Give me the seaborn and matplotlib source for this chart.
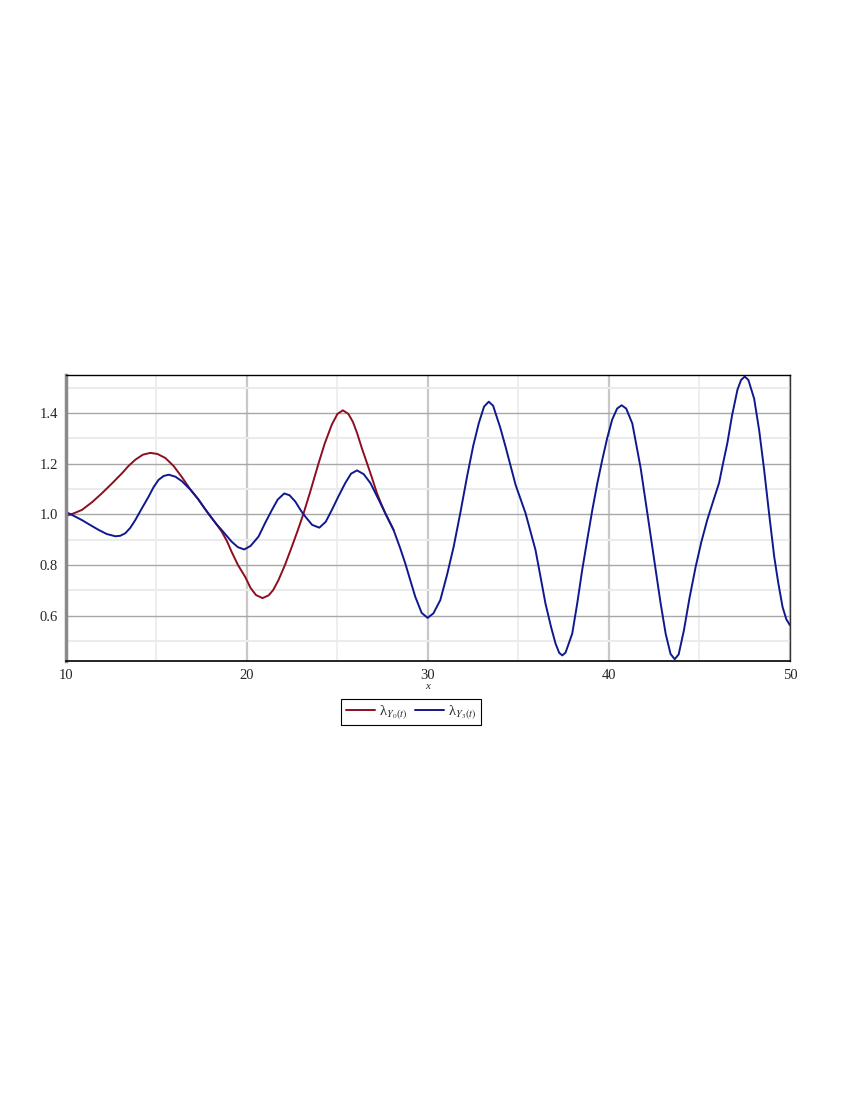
import matplotlib
matplotlib.use("Agg")
import matplotlib.pyplot as plt
import seaborn as sns
from matplotlib.ticker import MultipleLocator

# values
x_y0 = [10.0, 10.45, 10.88, 11.45, 11.99, 12.55, 13.1, 13.45, 13.83, 14.25, 14.66,
        15.05, 15.49, 15.95, 16.41, 16.9, 17.3, 17.69, 18.0, 18.3, 18.6, 18.9,
        19.15, 19.5, 19.9, 20.2, 20.5, 20.86, 21.2, 21.45, 21.74, 22.1, 22.48,
        22.8, 23.13, 23.5, 23.96, 24.3, 24.69, 25.0, 25.3, 25.6, 25.85, 26.08,
        26.35, 26.63, 26.9, 27.18, 27.4, 27.64, 28.1]
lam_y0 = [0.993, 1.004, 1.017, 1.048, 1.083, 1.122, 1.162, 1.190, 1.215, 1.235,
          1.242, 1.238, 1.222, 1.190, 1.146, 1.095, 1.060, 1.020, 0.990, 0.962,
          0.932, 0.893, 0.852, 0.800, 0.753, 0.709, 0.681, 0.669, 0.680, 0.701,
          0.740, 0.800, 0.872, 0.935, 1.004, 1.090, 1.202, 1.280, 1.354, 1.396,
          1.410, 1.396, 1.365, 1.321, 1.260, 1.202, 1.145, 1.083, 1.044, 1.004,
          0.938]

x_y3 = [10.0, 10.45, 10.88, 11.35, 11.81, 12.25, 12.73, 13.0, 13.28, 13.55, 13.83,
        14.2, 14.57, 14.85, 15.12, 15.4, 15.68, 16.05, 16.41, 16.9, 17.3, 17.69,
        18.0, 18.3, 18.6, 18.9, 19.15, 19.5, 19.85, 20.2, 20.64, 21.0, 21.38,
        21.7, 22.06, 22.35, 22.67, 23.0, 23.22, 23.6, 24.0, 24.35, 24.69, 25.05,
        25.43, 25.75, 26.08, 26.45, 26.82, 27.1, 27.37, 27.64, 28.1, 28.47, 28.75,
        29.0, 29.3, 29.65, 29.98, 30.3, 30.68, 31.05, 31.42, 31.8, 32.16, 32.5,
        32.81, 33.1, 33.36, 33.6, 34.0, 34.28, 34.84, 35.39, 35.94, 36.2, 36.49,
        36.8, 37.05, 37.25, 37.42, 37.6, 37.97, 38.25, 38.52, 38.8, 39.08, 39.35,
        39.63, 39.9, 40.18, 40.45, 40.7, 40.95, 41.29, 41.75, 42.12, 42.58, 42.85,
        43.13, 43.4, 43.63, 43.85, 44.14, 44.45, 44.79, 45.1, 45.43, 45.75, 46.08,
        46.3, 46.54, 46.8, 47.1, 47.3, 47.5, 47.7, 48.02, 48.3, 48.57, 48.85,
        49.13, 49.35, 49.59, 49.8, 50.0]
lam_y3 = [1.009, 0.993, 0.977, 0.957, 0.938, 0.922, 0.913, 0.915, 0.925, 0.946,
          0.977, 1.024, 1.070, 1.108, 1.136, 1.151, 1.156, 1.148, 1.130, 1.095,
          1.060, 1.020, 0.990, 0.962, 0.938, 0.913, 0.892, 0.870, 0.861, 0.875,
          0.912, 0.965, 1.017, 1.058, 1.082, 1.075, 1.050, 1.012, 0.991, 0.958,
          0.947, 0.970, 1.017, 1.070, 1.123, 1.160, 1.173, 1.158, 1.123, 1.083,
          1.044, 1.004, 0.938, 0.865, 0.805, 0.745, 0.674, 0.611, 0.591, 0.609,
          0.661, 0.760, 0.872, 1.010, 1.149, 1.270, 1.360, 1.425, 1.444, 1.428,
          1.340, 1.268, 1.116, 1.004, 0.859, 0.760, 0.648, 0.555, 0.489, 0.453,
          0.443, 0.454, 0.529, 0.650, 0.780, 0.900, 1.017, 1.120, 1.215, 1.300,
          1.374, 1.417, 1.430, 1.417, 1.358, 1.182, 1.004, 0.780, 0.650, 0.529,
          0.449, 0.428, 0.447, 0.542, 0.670, 0.793, 0.890, 0.978, 1.050, 1.123,
          1.200, 1.281, 1.390, 1.492, 1.530, 1.543, 1.530, 1.456, 1.330, 1.176,
          1.000, 0.832, 0.730, 0.634, 0.585, 0.562]

sns.set_style("white")
plt.rcParams["font.family"] = ["Liberation Serif", "DejaVu Serif"]
plt.rcParams["mathtext.fontset"] = "stix"

fig = plt.figure(figsize=(8.5, 11), dpi=100)
ax = fig.add_axes([0.0776, 0.399, 0.8518, 0.2600])

sns.lineplot(x=x_y0, y=lam_y0, color="#8B0F1F", lw=1.4, ax=ax, sort=False,
             estimator=None, label="λ$_{Y_0(t)}$")
sns.lineplot(x=x_y3, y=lam_y3, color="#10188F", lw=1.4, ax=ax, sort=False,
             estimator=None, label="λ$_{Y_3(t)}$")
for line in ax.get_lines():
    line.set_solid_joinstyle("round")

ax.set_xlim(10, 50)
ax.set_ylim(0.4205, 1.549)
ax.xaxis.set_major_locator(MultipleLocator(10))
ax.xaxis.set_minor_locator(MultipleLocator(5))
ax.yaxis.set_major_locator(MultipleLocator(0.2))
ax.yaxis.set_minor_locator(MultipleLocator(0.1))

ax.set_axisbelow(True)
ax.grid(which="major", axis="y", color="#A8A8A8", lw=1.0)
ax.grid(which="minor", axis="y", color="#EBEBEB", lw=1.5)
ax.grid(which="major", axis="x", color="#C8C8C8", lw=1.6)
ax.grid(which="minor", axis="x", color="#EDEDED", lw=1.3)

ax.spines["left"].set_color("#8A8A8A")
ax.spines["left"].set_linewidth(2.5)
ax.spines["bottom"].set_color("black")
ax.spines["bottom"].set_linewidth(1.2)
ax.spines["top"].set_color("black")
ax.spines["top"].set_linewidth(1.0)
ax.spines["right"].set_color("#333333")
ax.spines["right"].set_linewidth(1.0)

ax.tick_params(which="major", direction="out", length=4, width=1,
               color="black", labelsize=10.5, pad=2)
ax.tick_params(which="minor", direction="out", length=2.5, width=1,
               color="black")
ax.set_xlabel("x", fontsize=8, style="italic", labelpad=0)
ax.set_ylabel("")

handles, labels = ax.get_legend_handles_labels()
if ax.get_legend() is not None:
    ax.get_legend().remove()
leg = fig.legend(handles, labels, loc="center", bbox_to_anchor=(0.4835, 0.3527),
                 ncol=2, fancybox=False, edgecolor="black", framealpha=1,
                 fontsize=10.5, handlelength=2.0, columnspacing=0.5,
                 handletextpad=0.3, borderpad=0.3)
leg.get_frame().set_linewidth(0.8)

fig.savefig("out.png", dpi=100)
